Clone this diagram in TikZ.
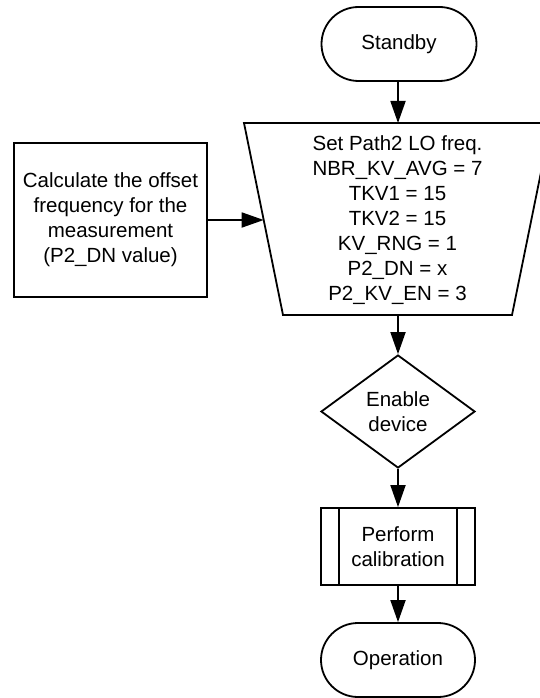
\documentclass[tikz,border=0pt]{standalone}
\usepackage{fontspec}
\setmainfont{Liberation Sans}
\usetikzlibrary{arrows.meta,shapes.geometric}
\begin{document}
\begin{tikzpicture}[x=1pt,y=-1pt,
  every node/.style={font=\fontsize{20.5}{25}\selectfont, align=center, inner sep=0pt},
  term/.style={draw, line width=1.8pt, rounded corners=37pt, minimum width=155pt, minimum height=74pt},
  boxnode/.style={draw, line width=1.8pt, minimum width=193pt, minimum height=154pt},
  decide/.style={draw, line width=1.8pt, diamond, aspect=1.36, minimum width=154pt, minimum height=113pt},
  procnode/.style={draw, line width=1.8pt, minimum width=154pt, minimum height=77pt},
  flow/.style={line width=1.8pt, -{Triangle[length=22pt,width=15pt]}}]
\useasboundingbox (0,0) rectangle (540,698);
% Standby
\node[term] (standby) at (399,44) {Standby};
% trapezoid
\draw[line width=1.8pt, line join=miter] (244,123) -- (551,123) -- (512,315) -- (283,315) -- cycle;
\coordinate (settop) at (398,123);
\coordinate (setleft) at (263.7,220);
\coordinate (setbot) at (398,315);
\node (set) at (397.5,220) {Set Path2 LO freq.\\NBR\_KV\_AVG = 7\\TKV1 = 15\\TKV2 = 15\\KV\_RNG = 1\\P2\_DN = x\\P2\_KV\_EN = 3};
% calc box
\node[boxnode] (calc) at (110.5,220) {Calculate the offset\\frequency for the\\measurement\\(P2\_DN value)};
% diamond
\node[decide] (enable) at (398,411.5) {Enable\\device};
% predefined process
\node[procnode] (calib) at (398,546.5) {Perform\\calibration};
\draw[line width=1.8pt] ([xshift=19pt]calib.north west) -- ([xshift=19pt]calib.south west);
\draw[line width=1.8pt] ([xshift=-19pt]calib.north east) -- ([xshift=-19pt]calib.south east);
% operation
\node[term, minimum width=154pt] (oper) at (398,660) {Operation};
% arrows
\draw[flow] (standby.south -| settop) -- (settop);
\draw[flow] (calc.east) -- (setleft);
\draw[flow] (setbot) -- (enable.north);
\draw[flow] (enable.south) -- (calib.north);
\draw[flow] (calib.south) -- (oper.north);
\end{tikzpicture}
\end{document}
